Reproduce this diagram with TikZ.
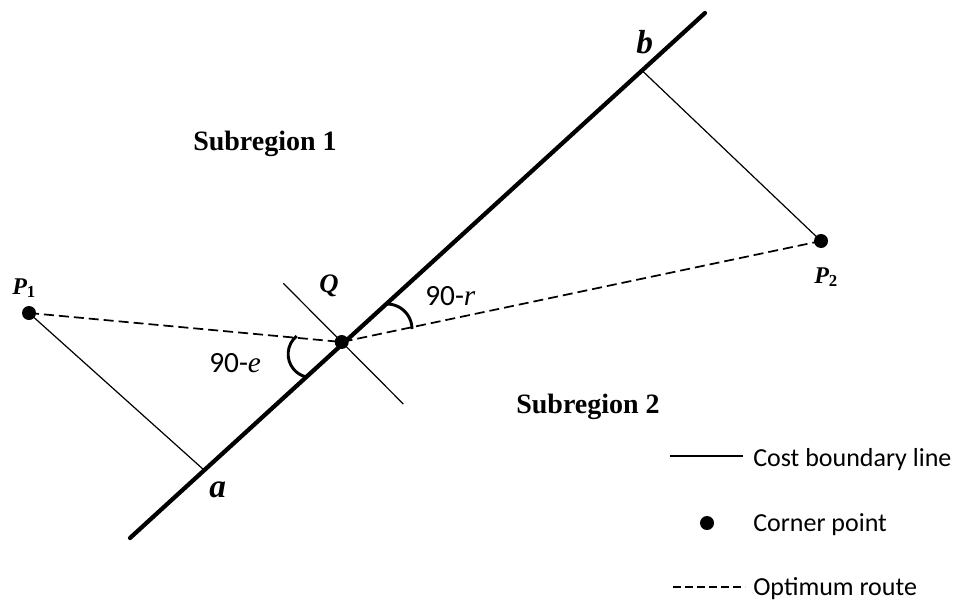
\documentclass[tikz,border=0pt]{standalone}
\usepackage{fontspec}
\setmainfont{Liberation Serif}
\newfontfamily\calib{Carlito}
\pgfdeclarelayer{bg}
\pgfsetlayers{bg,main}
\begin{document}
\begin{tikzpicture}[x=0.75pt,y=-0.75pt,
  boundary/.style={line width=3.2pt, line cap=round},
  thinline/.style={line width=0.9pt},
  route/.style={line width=1.3pt, dash pattern=on 7.5pt off 3.75pt},
  anglearc/.style={line width=2.2pt},
  legendline/.style={line width=1.2pt},
  legendroute/.style={line width=0.9pt, dash pattern=on 6pt off 3pt},
  corner/.style={circle, fill=black, inner sep=0pt, minimum size=10.5pt},
  lbl/.style={inner sep=0pt, anchor=base west},
  region/.style={inner sep=0pt, anchor=base, font=\fontsize{21}{25}\selectfont\bfseries},
  legendtext/.style={inner sep=0pt, anchor=base west, font=\calib\fontsize{19.5}{23}\selectfont}]
\useasboundingbox (0,0) rectangle (957,600);
% points
\node[corner] (P1) at (29,313) {};
\node[corner] (Q) at (341.7,342) {};
\node[corner] (P2) at (821,241) {};
\coordinate (e1) at (130,538);
\coordinate (e2) at (705,13);
\coordinate (a) at (204,470);
\coordinate (b) at (642,70.5);
\coordinate (q1) at (283.3,283.3);
\coordinate (q2) at (403.3,404);
\begin{pgfonlayer}{bg}
\draw[boundary] (e1) -- (e2);
\draw[thinline] (P1.center) -- (a);
\draw[thinline] (P2.center) -- (b);
\draw[thinline] (q1) -- (q2);
\draw[route] (P1.center) -- (Q.center) -- (P2.center);
\draw[anglearc] (311.6,354.1) ++(129.5:17.6pt) arc[start angle=129.5, end angle=253.7, radius=17.6pt];
\draw[anglearc] (387,329) ++(95:18.75pt) arc[start angle=95, end angle=0, radius=18.75pt];
\end{pgfonlayer}
% labels
\node[lbl, font=\fontsize{18}{21}\selectfont\bfseries\itshape] (lP1) at (12,294) {P\textsubscript{\upshape 1}};
\node[lbl, font=\fontsize{20}{24}\selectfont\bfseries\itshape] (lQ) at (319,292) {Q};
\node[lbl, font=\fontsize{18}{21}\selectfont\bfseries\itshape] (lP2) at (814,283) {P\textsubscript{\upshape 2}};
\node[lbl, font=\fontsize{25}{29}\selectfont\bfseries\itshape] (la) at (209,497) {a};
\node[lbl, font=\fontsize{25}{29}\selectfont\bfseries\itshape] (lb) at (636,53) {b};
\node[lbl, font=\fontsize{22}{26}\selectfont] (le) at (209,372) {{\calib 90-}\textit{e}};
\node[lbl, font=\fontsize{22}{26}\selectfont] (lr) at (425,305) {{\calib 90-}\textit{r}};
\node[region] (s1) at (265,150) {Subregion 1};
\node[region] (s2) at (588,413) {Subregion 2};
% legend
\coordinate (l1a) at (670,456);
\coordinate (l1b) at (743,456);
\draw[legendline] (l1a) -- (l1b);
\node[corner] (ldot) at (707,523) {};
\coordinate (l3a) at (673,587);
\coordinate (l3b) at (745,587);
\draw[legendroute] (l3a) -- (l3b);
\node[legendtext] (t1) at (753,466) {Cost boundary line};
\node[legendtext] (t2) at (753,531) {Corner point};
\node[legendtext] (t3) at (753,595) {Optimum route};
\end{tikzpicture}
\end{document}
